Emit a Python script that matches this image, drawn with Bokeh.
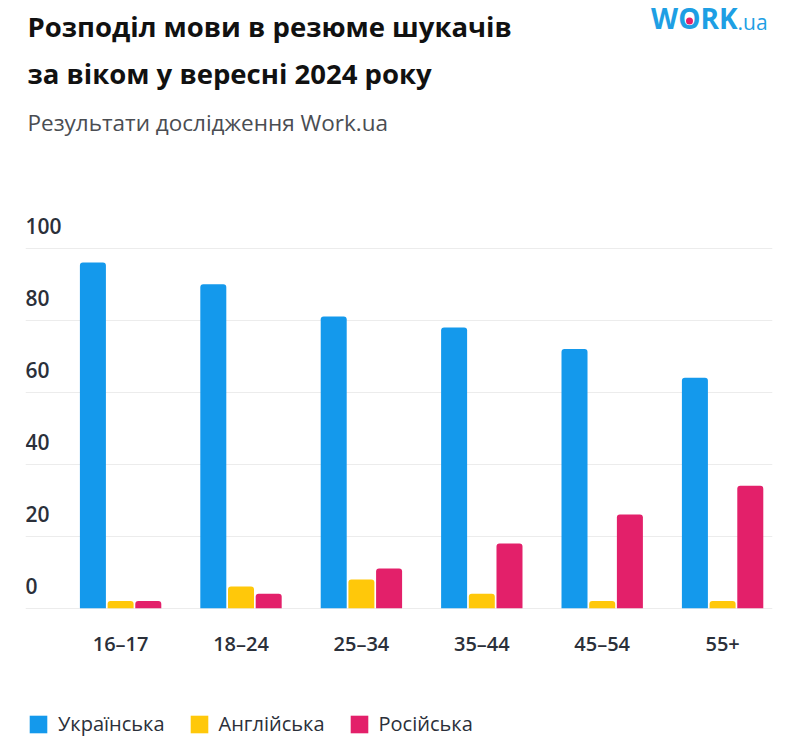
from bokeh.plotting import figure
from bokeh.models import Range1d, FixedTicker, Legend, LegendItem, ColumnDataSource
from bokeh.core.properties import value
from bokeh.transform import dodge
from bokeh.embed import file_html
from bokeh.resources import INLINE

# ---------------- data ----------------
categories = ["16–17", "18–24", "25–34", "35–44", "45–54", "55+"]
ukrainian = [96, 90, 81, 78, 72, 64]
english = [2, 6, 8, 4, 2, 2]
russian = [2, 4, 11, 18, 26, 34]
series_names = ["Українська", "Англійська", "Російська"]
y_ticks = [0, 20, 40, 60, 80, 100]

title_lines = ["Розподіл мови в резюме шукачів", "за віком у вересні 2024 року"]
subtitle = "Результати дослідження Work.ua"
logo_main, logo_tail = "WORK", ".ua"

# ---------------- layout ----------------
W, H = 800, 745
ORIGIN = 0  # page offset of the canvas
FONT = "Open Sans"
FONT_SEMI = "'Open Sans SemiBold', 'Open Sans'"
BLUE, YELLOW, RED = "#1499EC", "#FFC80A", "#E3206A"
LOGO = "#1E9FE4"
DARK = "#2B303A"
BASE_FIX = 0.45  # em correction for the renderer's baseline placement

# page-pixel geometry
FRAME_L, FRAME_R = 25, 772
Y0_PX, Y100_PX = 607.7, 247.7
G0_PX, PITCH = 120.1, 120.4
PPU = (Y0_PX - Y100_PX) / 100.0


def xd(px):
    return (px - G0_PX) / PITCH


def yd(py):
    return (Y0_PX - py) / PPU


def ty(base_px, size):
    return yd(base_px - BASE_FIX * size)


p = figure(width=W, height=H, output_backend="svg", toolbar_location=None,
           x_range=Range1d(xd(FRAME_L), xd(FRAME_R)),
           y_range=Range1d(yd(ORIGIN + H), yd(ORIGIN)),
           x_axis_location=None, y_axis_location=None,
           min_border_left=FRAME_L - ORIGIN, min_border_right=ORIGIN + W - FRAME_R,
           min_border_top=0, min_border_bottom=0)
p.outline_line_color = None
p.background_fill_color = "white"
p.border_fill_color = "white"
p.xgrid.visible = False
p.ygrid.ticker = FixedTicker(ticks=y_ticks)
p.ygrid.grid_line_color = "#ECECEC"
p.ygrid.grid_line_width = 1

src = ColumnDataSource(dict(x=list(range(len(categories))),
                            ua=ukrainian, en=english, ru=russian))
BW = 0.216
OFF = 0.23
r_ua = p.vbar(x=dodge("x", -OFF), top="ua", bottom=0, width=BW, source=src,
              fill_color=BLUE, line_color=None, border_radius=(3, 3, 0, 0))
r_en = p.vbar(x=dodge("x", 0.0), top="en", bottom=0, width=BW, source=src,
              fill_color=YELLOW, line_color=None, border_radius=(3, 3, 0, 0))
r_ru = p.vbar(x=dodge("x", OFF), top="ru", bottom=0, width=BW, source=src,
              fill_color=RED, line_color=None, border_radius=(3, 3, 0, 0))

# y tick labels (sit above their gridlines)
YL = 21
p.text(x=[xd(FRAME_L)] * len(y_ticks), y=y_ticks, text=[str(t) for t in y_ticks],
       y_offset=-13 - BASE_FIX * YL, text_align="left", text_baseline="alphabetic",
       text_font=value(FONT_SEMI), text_font_size=f"{YL}px", text_color=DARK)

# x category labels
XL = 20
p.text(x=list(range(len(categories))), y=[0] * len(categories), text=categories,
       y_offset=44.5 - BASE_FIX * XL, text_align="center", text_baseline="alphabetic",
       text_font=value(FONT_SEMI), text_font_size=f"{XL}px", text_color=DARK)

# titles
TS = 27.5
for line, base in zip(title_lines, [38.3, 85.0]):
    p.text(x=[xd(27)], y=[ty(base, TS)], text=[line], text_align="left",
           text_baseline="alphabetic", text_font=value(FONT), text_font_size=f"{TS}px",
           text_font_style="bold", text_color="#111111")
SS = 22.5
p.text(x=[xd(27)], y=[ty(131.7, SS)], text=[subtitle], text_align="left",
       text_baseline="alphabetic", text_font=value(FONT), text_font_size=f"{SS}px",
       text_color="#4A4D52")

# logo
LS, LS2 = 28, 21
p.text(x=[xd(737)], y=[ty(30.5, LS)], text=[logo_main], text_align="right",
       text_baseline="alphabetic", text_font=value(FONT), text_font_size=f"{LS}px",
       text_font_style="bold", text_color=LOGO)
p.text(x=[xd(737)], y=[ty(30.5, LS2)], text=[logo_tail], text_align="left",
       text_baseline="alphabetic", text_font=value(FONT), text_font_size=f"{LS2}px",
       text_color=LOGO)
p.scatter(x=[xd(689)], y=[yd(20.5)], size=7, marker="circle",
          fill_color="#E3206A", line_color=None)

legend = Legend(items=[LegendItem(label=n, renderers=[r])
                       for n, r in zip(series_names, [r_ua, r_en, r_ru])],
                orientation="horizontal",
                location=(27 - FRAME_L, ORIGIN + H - 737),
                glyph_width=22, glyph_height=22, label_standoff=9, spacing=23,
                padding=0, margin=0, border_line_color=None,
                background_fill_alpha=0,
                label_text_font=FONT, label_text_font_size="20px",
                label_text_color=DARK, label_height=22)
p.add_layout(legend)

open("out.html", "w").write(file_html(p, INLINE))
